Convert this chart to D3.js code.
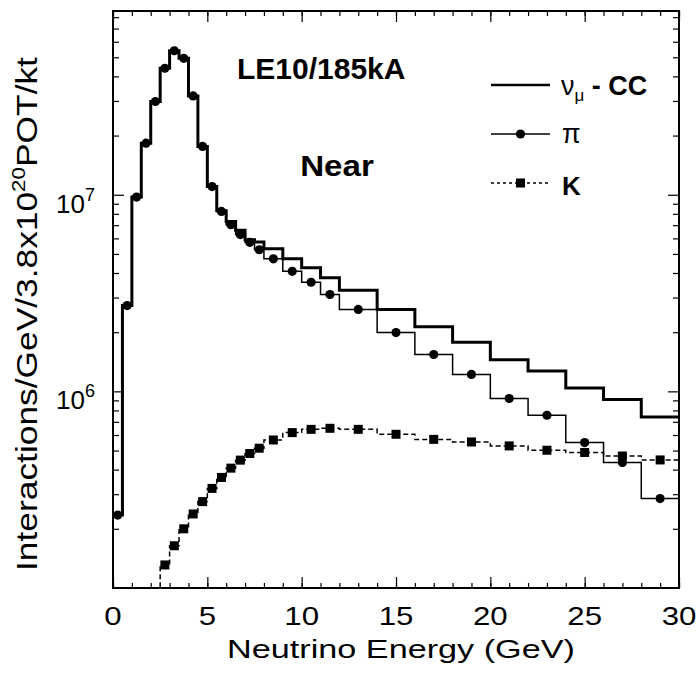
<!DOCTYPE html>
<html>
<head>
<meta charset="utf-8">
<script src="https://cdn.jsdelivr.net/npm/d3@7"></script>
<style>
  body { margin: 0; background: #fff; }
  text { font-family: "Liberation Sans", Arial, Helvetica, sans-serif; fill: #000; }
</style>
</head>
<body>
<svg id="canvas" width="698" height="673"></svg>
<script>
// bin edges (GeV): 0.5 wide up to 8, 1 wide up to 12, 2 wide up to 30
var binEdges = [0, 0.5, 1, 1.5, 2, 2.5, 3, 3.5, 4, 4.5, 5, 5.5, 6, 6.5, 7, 7.5, 8,
                9, 10, 11, 12, 14, 16, 18, 20, 22, 24, 26, 28, 30];

// numu CC total
var ccValues = [2.35e5, 2.73e6, 9.73e6, 1.83e7, 2.98e7, 4.40e7, 5.40e7, 4.94e7,
                3.18e7, 1.76e7, 1.10e7, 8.3e6, 7.3e6, 6.6e6, 5.91e6, 5.75e6,
                5.32e6, 4.72e6, 4.25e6, 3.78e6,
                3.27e6, 2.61e6, 2.13e6, 1.78e6, 1.45e6, 1.27e6, 1.04e6, 9.1e5, 7.41e5];

// from pion parents
var piValues = [2.35e5, 2.73e6, 9.73e6, 1.83e7, 2.98e7, 4.40e7, 5.40e7, 4.94e7,
                3.18e7, 1.76e7, 1.10e7, 8.23e6, 7.04e6, 6.27e6, 5.73e6, 5.25e6,
                4.72e6, 4.08e6, 3.59e6, 3.11e6,
                2.61e6, 1.99e6, 1.54e6, 1.22e6, 9.2e5, 7.56e5, 5.49e5, 4.35e5, 2.85e5];

// from kaon parents (first bins are below the plot minimum)
var kValues = [3e4, 4e4, 5e4, 7e4, 9e4, 1.31e5, 1.64e5, 2.0e5,
               2.38e5, 2.75e5, 3.21e5, 3.65e5, 4.07e5, 4.47e5, 4.83e5, 5.14e5,
               5.66e5, 6.17e5, 6.41e5, 6.49e5,
               6.41e5, 6.05e5, 5.70e5, 5.53e5, 5.28e5, 5.02e5, 4.89e5, 4.69e5, 4.48e5];

var xTicksMajor = [0, 5, 10, 15, 20, 25, 30];
var yTicksMajor = [1e6, 1e7];
var yTickExp = ["6", "7"];

// ##################
// frame and scales
// ##################
// (careful: "top" is window.top, so use other names)
var frameL = 113, frameR = 679, frameT = 11, frameB = 588;

var svg = d3.select("#canvas");
svg.append("rect").attr("width", 698).attr("height", 673).attr("fill", "#fff");

var x = d3.scaleLinear().domain([0, 30]).range([frameL, frameR]);
var y = d3.scaleLog().domain([1e5, 8.6e7]).range([frameB, frameT]).clamp(true);

var yMinor = [];
[1e5, 1e6, 1e7].forEach(function(dec) {
    for (var m = 2; m <= 9; m++) { if (m * dec < 8.6e7) yMinor.push(m * dec); }
});

// ticks on all four sides, pointing inward
function tickAxis(axis, tr, vals, size) {
    var g = svg.append("g").attr("transform", tr)
        .call(axis.tickValues(vals).tickSize(-size).tickFormat(""));
    g.select(".domain").remove();
    g.selectAll("line").attr("stroke", "#000").attr("stroke-width", 1.2);
}
var xMinor = d3.range(0, 31, 1);
tickAxis(d3.axisBottom(x), "translate(0," + frameB + ")", xMinor, 5);
tickAxis(d3.axisBottom(x), "translate(0," + frameB + ")", xTicksMajor, 11);
tickAxis(d3.axisTop(x), "translate(0," + frameT + ")", xMinor, 5);
tickAxis(d3.axisTop(x), "translate(0," + frameT + ")", xTicksMajor, 11);
tickAxis(d3.axisLeft(y), "translate(" + frameL + ",0)", yMinor, 6);
tickAxis(d3.axisLeft(y), "translate(" + frameL + ",0)", yTicksMajor, 11);
tickAxis(d3.axisRight(y), "translate(" + frameR + ",0)", yMinor, 6);
tickAxis(d3.axisRight(y), "translate(" + frameR + ",0)", yTicksMajor, 11);

// ##################
// histograms
// ##################
function stepPoints(vals) {
    var pts = vals.map(function(v, i) { return [binEdges[i], v]; });
    pts.push([binEdges[vals.length], vals[vals.length - 1]]);
    return pts;
}
var step = d3.line()
    .x(function(d) { return x(d[0]); })
    .y(function(d) { return y(d[1]); })
    .curve(d3.curveStepAfter);

var plot = svg.append("g");

plot.append("path").datum(stepPoints(kValues))
    .attr("d", step).attr("fill", "none")
    .attr("stroke", "#000").attr("stroke-width", 1.5)
    .attr("stroke-dasharray", "5,3");

plot.append("path").datum(stepPoints(piValues))
    .attr("d", step).attr("fill", "none")
    .attr("stroke", "#000").attr("stroke-width", 1.5);

plot.append("path").datum(stepPoints(ccValues))
    .attr("d", step).attr("fill", "none")
    .attr("stroke", "#000").attr("stroke-width", 3);

function center(i) { return (binEdges[i] + binEdges[i + 1]) / 2; }

plot.selectAll("circle.pi").data(piValues).enter()
    .append("circle").attr("class", "pi")
    .attr("cx", function(d, i) { return x(center(i)); })
    .attr("cy", function(d) { return y(d); })
    .attr("r", 4.6).attr("fill", "#000");

var ms = 9;
plot.selectAll("rect.k").data(kValues.map(function(v, i) { return {v: v, i: i}; })
        .filter(function(d) { return d.v >= 1e5; }))
    .enter().append("rect").attr("class", "k")
    .attr("x", function(d) { return x(center(d.i)) - ms / 2; })
    .attr("y", function(d) { return y(d.v) - ms / 2; })
    .attr("width", ms).attr("height", ms).attr("fill", "#000");

// frame on top
svg.append("rect")
    .attr("x", frameL).attr("y", frameT)
    .attr("width", frameR - frameL).attr("height", frameB - frameT)
    .attr("fill", "none").attr("stroke", "#000").attr("stroke-width", 2);

// ##################
// text
// ##################
// ROOT text comes out wider than Liberation Sans, so stretch along the baseline
function stretchTo(textSel, width) {
    var w = textSel.node().getBBox().width;
    textSel.attr("transform", "scale(" + (width / w) + ",1)");
}

xTicksMajor.forEach(function(v) {
    var g = svg.append("g").attr("transform", "translate(" + x(v) + ",625)");
    var t = g.append("text").attr("text-anchor", "middle")
        .attr("font-size", 26).text(v);
    t.attr("transform", "scale(1.2,1)");
});

yTicksMajor.forEach(function(v, i) {
    var t = svg.append("text").attr("x", 56).attr("y", y(v) + 18)
        .attr("font-size", 26);
    t.append("tspan").text("10");
    t.append("tspan").attr("font-size", 18).attr("dy", -12).text(yTickExp[i]);
});

var gx = svg.append("g").attr("transform", "translate(401,658)");
var xt = gx.append("text").attr("text-anchor", "middle").attr("font-size", 26)
    .text("Neutrino Energy (GeV)");
stretchTo(xt, 348);

var gy = svg.append("g").attr("transform", "translate(37,314) rotate(-90)");
var yt = gy.append("text").attr("text-anchor", "middle").attr("font-size", 30);
yt.append("tspan").text("Interactions/GeV/3.8x10");
yt.append("tspan").attr("font-size", 19).attr("dy", -12).text("20");
yt.append("tspan").attr("dy", 12).text("POT/kt");
stretchTo(yt, 515);

svg.append("text").attr("x", 237).attr("y", 79)
    .attr("font-size", 30).attr("font-weight", "bold").text("LE10/185kA");

var gn = svg.append("g").attr("transform", "translate(337,176)");
var nt = gn.append("text").attr("text-anchor", "middle")
    .attr("font-size", 30).attr("font-weight", "bold").text("Near");
stretchTo(nt, 74);

// ##################
// legend
// ##################
var legendY = [85, 134, 183];
svg.append("line").attr("x1", 491).attr("x2", 550)
    .attr("y1", legendY[0]).attr("y2", legendY[0])
    .attr("stroke", "#000").attr("stroke-width", 2.5);
svg.append("line").attr("x1", 491).attr("x2", 550)
    .attr("y1", legendY[1]).attr("y2", legendY[1])
    .attr("stroke", "#000").attr("stroke-width", 1.5);
svg.append("circle").attr("cx", 520.5).attr("cy", legendY[1]).attr("r", 4.6);
svg.append("line").attr("x1", 491).attr("x2", 550)
    .attr("y1", legendY[2]).attr("y2", legendY[2])
    .attr("stroke", "#000").attr("stroke-width", 1.5)
    .attr("stroke-dasharray", "3,3");
svg.append("rect").attr("x", 520.5 - ms / 2).attr("y", legendY[2] - ms / 2)
    .attr("width", ms).attr("height", ms);

var l1 = svg.append("text").attr("x", 561).attr("y", 95).attr("font-size", 27);
l1.append("tspan").text("\u03bd");
l1.append("tspan").attr("font-size", 17).attr("dy", 6).text("\u03bc");
l1.append("tspan").attr("dy", -6).attr("font-weight", "bold").text(" - CC");

svg.append("text").attr("x", 562).attr("y", 143).attr("font-size", 27).text("\u03c0");
svg.append("text").attr("x", 562).attr("y", 195).attr("font-size", 26)
    .attr("font-weight", "bold").text("K");
</script>
</body>
</html>
